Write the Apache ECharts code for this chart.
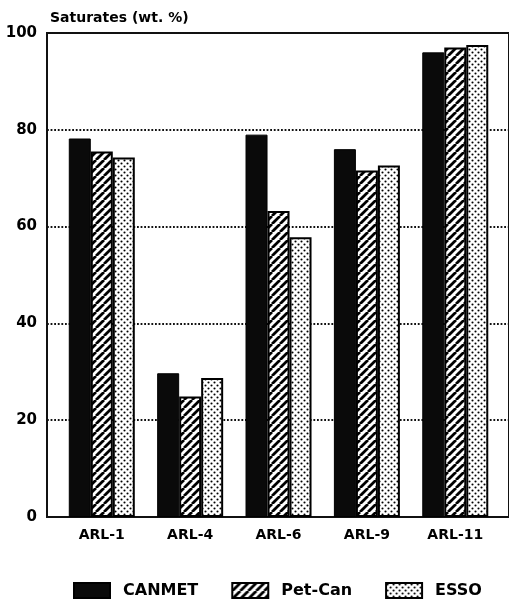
<!DOCTYPE html>
<html>
<head>
<meta charset="utf-8">
<script src="https://cdn.jsdelivr.net/npm/echarts@6/dist/echarts.min.js"></script>
<style>
html,body{margin:0;padding:0;background:#fff;}
#chart{width:509px;height:605px;}
</style>
</head>
<body>
<div id="chart"></div>
<script>
// ---- data ----
const categories = ['ARL-1', 'ARL-4', 'ARL-6', 'ARL-9', 'ARL-11'];
const canmet = [78.2, 29.7, 79.0, 76.0, 96.0];
const petcan = [75.5, 24.9, 63.2, 71.6, 97.0];
const esso   = [74.3, 28.7, 57.8, 72.6, 97.5];
const seriesNames = ['CANMET', 'Pet-Can', 'ESSO'];
const yTicks = [0, 20, 40, 60, 80, 100];
const yTitle = 'Saturates (wt. %)';

// ---- patterns ----
function hatchPattern() {
  const c = document.createElement('canvas');
  c.width = 8; c.height = 8;
  const g = c.getContext('2d');
  g.fillStyle = '#fff'; g.fillRect(0, 0, 8, 8);
  g.strokeStyle = '#000'; g.lineWidth = 2.8;
  g.beginPath();
  [-8, 0, 8].forEach(k => { g.moveTo(k, 8); g.lineTo(k + 8, 0); });
  g.stroke();
  return c;
}
function dotPattern() {
  const c = document.createElement('canvas');
  c.width = 6; c.height = 6;
  const g = c.getContext('2d');
  g.fillStyle = '#fff'; g.fillRect(0, 0, 6, 6);
  g.fillStyle = '#000';
  [[1.5, 1.5], [4.5, 4.5]].forEach(p => { g.beginPath(); g.arc(p[0], p[1], 1.05, 0, Math.PI * 2); g.fill(); });
  return c;
}

const FONT = 'DejaVu Sans';
const chart = echarts.init(document.getElementById('chart'), null, { renderer: 'canvas' });
const toPairs = arr => arr.map((v, i) => [i, v]);

const option = {
  backgroundColor: '#fff',
  animation: false,
  title: {
    text: yTitle, left: 45, top: 6,
    textStyle: { fontFamily: FONT, fontWeight: 'bold', fontSize: 14, color: '#000' }
  },
  grid: {
    left: 47, right: -2, top: 33, bottom: 88,
    show: true, borderColor: '#111', borderWidth: 2, backgroundColor: 'transparent'
  },
  legend: {
    left: 73, top: 582, padding: 0,
    itemWidth: 36, itemHeight: 15, itemGap: 33,
    icon: 'rect',
    textStyle: { fontFamily: FONT, fontWeight: 'bold', fontSize: 16, color: '#000', padding: [0, 0, 0, 8] },
    data: seriesNames
  },
  xAxis: {
    type: 'value', min: -0.62, max: 4.608,
    axisLine: { show: true, onZero: false, lineStyle: { color: '#111', width: 2 } },
    axisTick: { show: false },
    splitLine: { show: false },
    axisLabel: {
      customValues: categories.map((c, i) => i),
      formatter: v => categories[Math.round(v)] || '',
      margin: 11,
      fontFamily: FONT, fontWeight: 'bold', fontSize: 14, color: '#000'
    }
  },
  yAxis: {
    type: 'value', min: yTicks[0], max: yTicks[yTicks.length - 1], interval: 20,
    axisLine: { show: true, onZero: false, lineStyle: { color: '#111', width: 2 } },
    axisTick: { show: false },
    splitLine: { show: true, lineStyle: { type: 'dotted', color: '#111', width: 1.8 } },
    axisLabel: { margin: 10, fontFamily: FONT, fontWeight: 'bold', fontSize: 15, color: '#000' }
  },
  series: [
    {
      name: seriesNames[0], type: 'bar', barWidth: 22, barGap: '0%',
      itemStyle: { color: '#0a0a0a', borderColor: '#000', borderWidth: 1 },
      data: toPairs(canmet)
    },
    {
      name: seriesNames[1], type: 'bar', barWidth: 22, barGap: '0%',
      itemStyle: { color: { image: hatchPattern(), repeat: 'repeat' }, borderColor: '#000', borderWidth: 2 },
      data: toPairs(petcan)
    },
    {
      name: seriesNames[2], type: 'bar', barWidth: 22, barGap: '0%',
      itemStyle: { color: { image: dotPattern(), repeat: 'repeat' }, borderColor: '#000', borderWidth: 2 },
      data: toPairs(esso)
    }
  ]
};
chart.setOption(option);
</script>
</body>
</html>
